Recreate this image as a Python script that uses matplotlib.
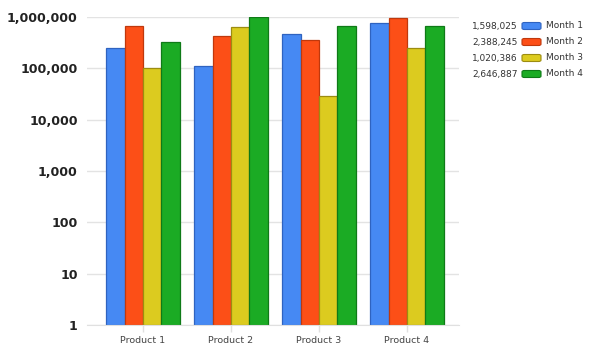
import matplotlib
matplotlib.use("Agg")
import matplotlib.pyplot as plt
from matplotlib.patches import FancyBboxPatch
from matplotlib.ticker import FixedLocator, FixedFormatter

products = ["Product 1", "Product 2", "Product 3", "Product 4"]
months = ["Month 1", "Month 2", "Month 3", "Month 4"]
month1 = [245000, 110000, 460000, 780000]
month2 = [655000, 421000, 352000, 945000]
month3 = [100000, 630000, 28500, 245000]
month4 = [321000, 990000, 655000, 655000]
totals = ["1,598,025", "2,388,245", "1,020,386", "2,646,887"]
ytick_vals = [1, 10, 100, 1000, 10000, 100000, 1000000]
ytick_labels = ["1", "10", "100", "1,000", "10,000", "100,000", "1,000,000"]

series = [month1, month2, month3, month4]
faces = ["#4689f3", "#fc4f17", "#dccb1f", "#1bab24"]
edges = ["#2f63c0", "#c0380c", "#9c8c10", "#0f7a17"]

fig = plt.figure(figsize=(5.93, 3.51), dpi=100)
W, H = 593, 351
ax = fig.add_axes([87.3 / W, 1 - 325 / H, (458.7 - 87.3) / W, (325 - 17) / H])

bw = 0.209
x = list(range(len(products)))
for i, (vals, fc, ec) in enumerate(zip(series, faces, edges)):
    xs = [xi + (i - 1.5) * bw for xi in x]
    ax.bar(xs, vals, width=bw, bottom=1, color=fc, edgecolor=ec, linewidth=0.9, zorder=3)

ax.set_yscale("log")
ax.set_ylim(1, 1000000)
ax.set_xlim(-0.633, 3.587)
ax.yaxis.set_major_locator(FixedLocator(ytick_vals))
ax.yaxis.set_major_formatter(FixedFormatter(ytick_labels))
ax.yaxis.set_minor_locator(FixedLocator([]))
ax.grid(axis="y", color="#e3e3e3", linewidth=1, zorder=0)
ax.tick_params(axis="y", length=0, pad=7, labelsize=9.1, labelcolor="#222222")
for lab in ax.get_yticklabels():
    lab.set_fontweight("bold")
ax.set_xticks(x)
ax.set_xticklabels(products)
ax.tick_params(axis="x", length=5, color="#e0e0e0", width=1, labelsize=6.8,
               labelcolor="#444444", pad=3)
for s in ["top", "right", "left"]:
    ax.spines[s].set_visible(False)
ax.spines["bottom"].set_color("#e0e0e0")
ax.spines["bottom"].set_zorder(4)

# legend with totals
for i, (tot, m, fc, ec) in enumerate(zip(totals, months, faces, edges)):
    yc = 26 + 16 * i
    fig.text(518 / W, 1 - yc / H, tot, ha="right", va="center", fontsize=6.5, color="#333333")
    fig.text(546 / W, 1 - yc / H, m, ha="left", va="center", fontsize=6.5, color="#333333")
    patch = FancyBboxPatch((522 / W, 1 - (yc + 3.5) / H), 19 / W, 7 / H,
                           boxstyle="round,pad=0,rounding_size=0.004",
                           transform=fig.transFigure, facecolor=fc, edgecolor=ec,
                           linewidth=0.8)
    fig.patches.append(patch)

fig.savefig("out.png", dpi=100)
